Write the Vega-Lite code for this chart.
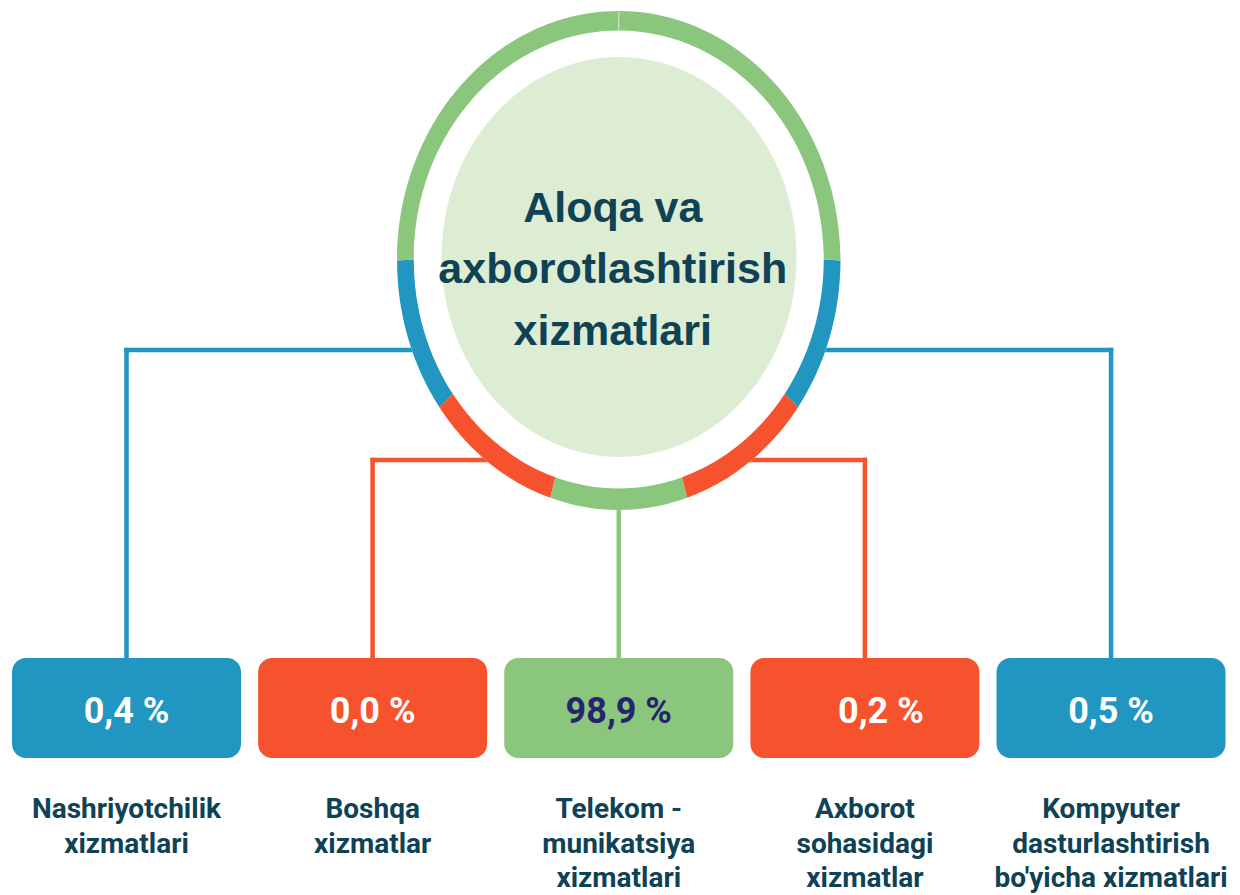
{
  "$schema": "https://vega.github.io/schema/vega-lite/v6.json",
  "width": 1240,
  "height": 895,
  "autosize": {"type": "none"},
  "padding": 0,
  "background": "#FFFFFF",
  "config": {"view": {"stroke": null}},
  "data": {
    "values": [
      {"slot": 1, "tier": 1, "name": "Nashriyotchilik xizmatlari", "label": ["Nashriyotchilik", "xizmatlari"], "share": 0.4, "shareText": "0,4 %"},
      {"slot": 2, "tier": 2, "name": "Boshqa xizmatlar", "label": ["Boshqa", "xizmatlar"], "share": 0.0, "shareText": "0,0 %"},
      {"slot": 3, "tier": 3, "name": "Telekom-munikatsiya xizmatlari", "label": ["Telekom -", "munikatsiya", "xizmatlari"], "share": 98.9, "shareText": "98,9 %"},
      {"slot": 4, "tier": 2, "name": "Axborot sohasidagi xizmatlar", "label": ["Axborot", "sohasidagi", "xizmatlar"], "share": 0.2, "shareText": "0,2 %"},
      {"slot": 5, "tier": 1, "name": "Kompyuter dasturlashtirish bo'yicha xizmatlari", "label": ["Kompyuter", "dasturlashtirish", "bo'yicha xizmatlari"], "share": 0.5, "shareText": "0,5 %"}
    ]
  },
  "layer": [
    {
      "transform": [{"filter": "datum.tier == 1"}],
      "mark": {"type": "rule", "strokeWidth": 4.5, "strokeCap": "square"},
      "encoding": {
        "x": {"field": "slot", "type": "quantitative", "scale": {"domain": [0.486, 5.524], "nice": false, "zero": false, "padding": 0}, "axis": null},
        "x2": {"datum": 3},
        "y": {"datum": 350, "type": "quantitative", "scale": {"domain": [0, 895], "reverse": true, "nice": false, "zero": false, "padding": 0}, "axis": null},
        "color": {"field": "tier", "type": "nominal", "scale": {"domain": [1, 2, 3], "range": ["#2196C1", "#F6522E", "#8BC67D"]}, "legend": null}
      }
    },
    {
      "transform": [{"filter": "datum.tier == 1"}],
      "mark": {"type": "rule", "strokeWidth": 4.5, "strokeCap": "square"},
      "encoding": {
        "x": {"field": "slot", "type": "quantitative", "scale": {"domain": [0.486, 5.524], "nice": false, "zero": false, "padding": 0}, "axis": null},
        "y": {"datum": 350, "type": "quantitative", "scale": {"domain": [0, 895], "reverse": true, "nice": false, "zero": false, "padding": 0}, "axis": null},
        "y2": {"datum": 660},
        "color": {"field": "tier", "type": "nominal", "scale": {"domain": [1, 2, 3], "range": ["#2196C1", "#F6522E", "#8BC67D"]}, "legend": null}
      }
    },
    {
      "transform": [{"filter": "datum.tier == 2"}],
      "mark": {"type": "rule", "strokeWidth": 4.5, "strokeCap": "square"},
      "encoding": {
        "x": {"field": "slot", "type": "quantitative", "scale": {"domain": [0.486, 5.524], "nice": false, "zero": false, "padding": 0}, "axis": null},
        "x2": {"datum": 3},
        "y": {"datum": 460, "type": "quantitative", "scale": {"domain": [0, 895], "reverse": true, "nice": false, "zero": false, "padding": 0}, "axis": null},
        "color": {"field": "tier", "type": "nominal", "scale": {"domain": [1, 2, 3], "range": ["#2196C1", "#F6522E", "#8BC67D"]}, "legend": null}
      }
    },
    {
      "transform": [{"filter": "datum.tier == 2"}],
      "mark": {"type": "rule", "strokeWidth": 4.5, "strokeCap": "square"},
      "encoding": {
        "x": {"field": "slot", "type": "quantitative", "scale": {"domain": [0.486, 5.524], "nice": false, "zero": false, "padding": 0}, "axis": null},
        "y": {"datum": 460, "type": "quantitative", "scale": {"domain": [0, 895], "reverse": true, "nice": false, "zero": false, "padding": 0}, "axis": null},
        "y2": {"datum": 660},
        "color": {"field": "tier", "type": "nominal", "scale": {"domain": [1, 2, 3], "range": ["#2196C1", "#F6522E", "#8BC67D"]}, "legend": null}
      }
    },
    {
      "transform": [{"filter": "datum.tier == 3"}],
      "mark": {"type": "rule", "strokeWidth": 4.5, "strokeCap": "square"},
      "encoding": {
        "x": {"field": "slot", "type": "quantitative", "scale": {"domain": [0.486, 5.524], "nice": false, "zero": false, "padding": 0}, "axis": null},
        "y": {"datum": 300, "type": "quantitative", "scale": {"domain": [0, 895], "reverse": true, "nice": false, "zero": false, "padding": 0}, "axis": null},
        "y2": {"datum": 660},
        "color": {"field": "tier", "type": "nominal", "scale": {"domain": [1, 2, 3], "range": ["#2196C1", "#F6522E", "#8BC67D"]}, "legend": null}
      }
    },
    {
      "transform": [{"filter": "datum.slot == 3"}],
      "mark": {"type": "point", "filled": true, "size": 4, "opacity": 1, "strokeWidth": 0, "color": "#FFFFFF",
               "shape": "M -221.7 0 A 221.7 249.5 0 1 1 221.7 0 A 221.7 249.5 0 1 1 -221.7 0 Z"},
      "encoding": {
        "x": {"datum": 3, "type": "quantitative", "scale": {"domain": [0.486, 5.524], "nice": false, "zero": false, "padding": 0}, "axis": null},
        "y": {"datum": 260.5, "type": "quantitative", "scale": {"domain": [0, 895], "reverse": true, "nice": false, "zero": false, "padding": 0}, "axis": null}
      }
    },
    {
      "mark": {"type": "point", "filled": true, "size": 4, "opacity": 1, "strokeWidth": 0},
      "encoding": {
        "x": {"datum": 3, "type": "quantitative", "scale": {"domain": [0.486, 5.524], "nice": false, "zero": false, "padding": 0}, "axis": null},
        "y": {"datum": 260.5, "type": "quantitative", "scale": {"domain": [0, 895], "reverse": true, "nice": false, "zero": false, "padding": 0}, "axis": null},
        "shape": {"field": "slot", "type": "nominal", "legend": null, "scale": {"domain": [1, 2, 3, 4, 5], "range": [
          "M -179.36 146.65 A 221.7 249.5 0 0 1 -221.7 0 L -205 -1 A 205 229 0 0 0 -165.85 133.6 Z",
          "M -68.51 237.29 A 221.7 249.5 0 0 1 -179.36 146.65 L -165.85 133.6 A 205 229 0 0 0 -63.35 216.79 Z",
          "M 68.51 237.29 A 221.7 249.5 0 0 1 -68.51 237.29 L -63.35 216.79 A 205 229 0 0 0 63.35 216.79 Z",
          "M 179.36 146.65 A 221.7 249.5 0 0 1 68.51 237.29 L 63.35 216.79 A 205 229 0 0 0 165.85 133.6 Z",
          "M 221.7 0 A 221.7 249.5 0 0 1 179.36 146.65 L 165.85 133.6 A 205 229 0 0 0 205 -1 Z"
        ]}},
        "color": {"field": "tier", "type": "nominal", "scale": {"domain": [1, 2, 3], "range": ["#2196C1", "#F6522E", "#8BC67D"]}, "legend": null}
      }
    },
    {
      "transform": [{"filter": "datum.slot == 3"}],
      "mark": {"type": "point", "filled": true, "size": 4, "opacity": 1, "strokeWidth": 0, "color": "#8BC67D",
               "shape": "M -221.7 0 A 221.7 249.5 0 0 1 221.7 0 L 205 -1 A 205 229 0 0 0 -205 -1 Z"},
      "encoding": {
        "x": {"datum": 3, "type": "quantitative", "scale": {"domain": [0.486, 5.524], "nice": false, "zero": false, "padding": 0}, "axis": null},
        "y": {"datum": 260.5, "type": "quantitative", "scale": {"domain": [0, 895], "reverse": true, "nice": false, "zero": false, "padding": 0}, "axis": null}
      }
    },
    {
      "transform": [{"filter": "datum.slot == 3"}],
      "mark": {"type": "rule", "strokeWidth": 1, "color": "#D8ECD2"},
      "encoding": {
        "x": {"datum": 3, "type": "quantitative", "scale": {"domain": [0.486, 5.524], "nice": false, "zero": false, "padding": 0}, "axis": null},
        "y": {"datum": 11.5, "type": "quantitative", "scale": {"domain": [0, 895], "reverse": true, "nice": false, "zero": false, "padding": 0}, "axis": null},
        "y2": {"datum": 31}
      }
    },
    {
      "transform": [{"filter": "datum.slot == 3"}],
      "mark": {"type": "point", "filled": true, "size": 4, "opacity": 1, "strokeWidth": 0, "color": "#DDEDD3",
               "shape": "M -177.2 -3.5 A 177.5 200 0 1 1 177.8 -3.5 A 177.5 200 0 1 1 -177.2 -3.5 Z"},
      "encoding": {
        "x": {"datum": 3, "type": "quantitative", "scale": {"domain": [0.486, 5.524], "nice": false, "zero": false, "padding": 0}, "axis": null},
        "y": {"datum": 260.5, "type": "quantitative", "scale": {"domain": [0, 895], "reverse": true, "nice": false, "zero": false, "padding": 0}, "axis": null}
      }
    },
    {
      "transform": [{"filter": "datum.slot == 3"}],
      "mark": {"type": "text", "text": ["Aloqa va", "axborotlashtirish", "xizmatlari"], "font": "Liberation Sans", "fontWeight": "bold", "fontSize": 43, "lineHeight": 61.7, "align": "center", "baseline": "alphabetic", "color": "#0F4255", "dx": -6},
      "encoding": {
        "x": {"datum": 3, "type": "quantitative", "scale": {"domain": [0.486, 5.524], "nice": false, "zero": false, "padding": 0}, "axis": null},
        "y": {"datum": 221.7, "type": "quantitative", "scale": {"domain": [0, 895], "reverse": true, "nice": false, "zero": false, "padding": 0}, "axis": null}
      }
    },
    {
      "mark": {"type": "bar", "width": 229, "cornerRadius": 14},
      "encoding": {
        "x": {"field": "slot", "type": "quantitative", "scale": {"domain": [0.486, 5.524], "nice": false, "zero": false, "padding": 0}, "axis": null},
        "y": {"datum": 658, "type": "quantitative", "scale": {"domain": [0, 895], "reverse": true, "nice": false, "zero": false, "padding": 0}, "axis": null},
        "y2": {"datum": 758},
        "color": {"field": "tier", "type": "nominal", "scale": {"domain": [1, 2, 3], "range": ["#2196C1", "#F6522E", "#8BC67D"]}, "legend": null}
      }
    },
    {
      "transform": [{"filter": "datum.slot != 4"}],
      "mark": {"type": "text", "font": "Roboto", "fontWeight": "bold", "fontSize": 36, "align": "center", "baseline": "alphabetic"},
      "encoding": {
        "x": {"field": "slot", "type": "quantitative", "scale": {"domain": [0.486, 5.524], "nice": false, "zero": false, "padding": 0}, "axis": null},
        "y": {"datum": 722.7, "type": "quantitative", "scale": {"domain": [0, 895], "reverse": true, "nice": false, "zero": false, "padding": 0}, "axis": null},
        "text": {"field": "shareText", "type": "nominal"},
        "color": {"condition": {"test": "datum.slot == 3", "value": "#262470"}, "value": "#FFFFFF"}
      }
    },
    {
      "transform": [{"filter": "datum.slot == 4"}],
      "mark": {"type": "text", "font": "Roboto", "fontWeight": "bold", "fontSize": 36, "align": "center", "baseline": "alphabetic", "dx": 16, "color": "#FFFFFF"},
      "encoding": {
        "x": {"field": "slot", "type": "quantitative", "scale": {"domain": [0.486, 5.524], "nice": false, "zero": false, "padding": 0}, "axis": null},
        "y": {"datum": 722.7, "type": "quantitative", "scale": {"domain": [0, 895], "reverse": true, "nice": false, "zero": false, "padding": 0}, "axis": null},
        "text": {"field": "shareText", "type": "nominal"}
      }
    },
    {
      "mark": {"type": "text", "font": "Roboto", "fontWeight": "bold", "fontSize": 28, "lineHeight": 34.5, "align": "center", "baseline": "alphabetic", "color": "#0F4255"},
      "encoding": {
        "x": {"field": "slot", "type": "quantitative", "scale": {"domain": [0.486, 5.524], "nice": false, "zero": false, "padding": 0}, "axis": null},
        "y": {"datum": 818, "type": "quantitative", "scale": {"domain": [0, 895], "reverse": true, "nice": false, "zero": false, "padding": 0}, "axis": null},
        "text": {"field": "label", "type": "nominal"}
      }
    }
  ]
}
